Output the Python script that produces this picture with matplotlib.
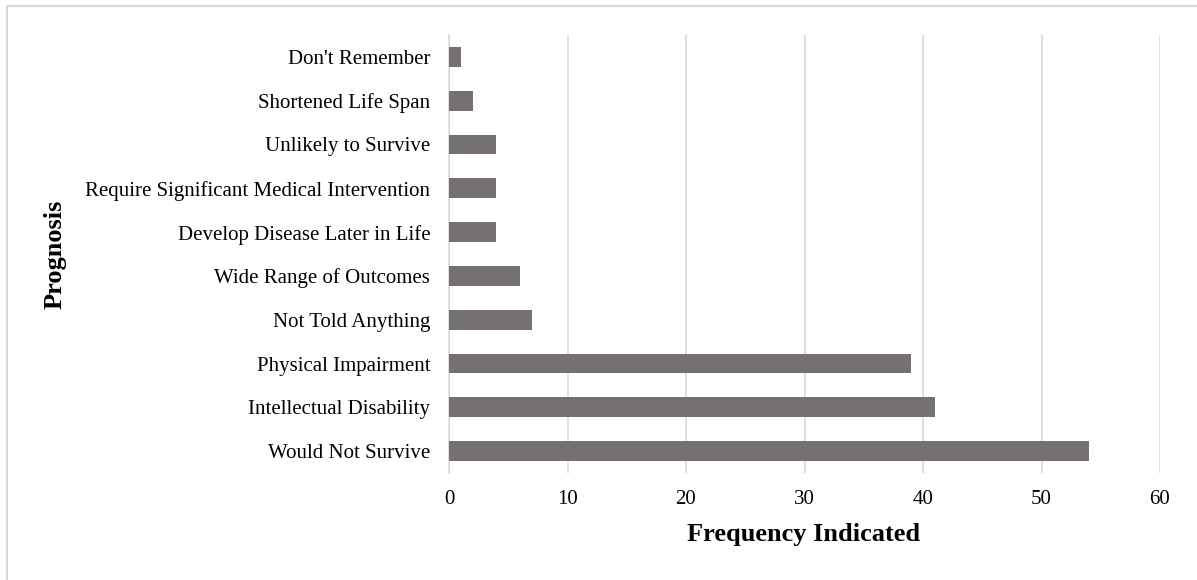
import matplotlib
matplotlib.use("Agg")
import matplotlib.pyplot as plt
from matplotlib.patches import Rectangle

categories = ["Would Not Survive", "Intellectual Disability", "Physical Impairment",
              "Not Told Anything", "Wide Range of Outcomes", "Develop Disease Later in Life",
              "Require Significant Medical Intervention", "Unlikely to Survive",
              "Shortened Life Span", "Don't Remember"]
values = [54, 41, 39, 7, 6, 4, 4, 4, 2, 1]
xticks = [0, 10, 20, 30, 40, 50, 60]

plt.rcParams['font.family'] = ['Liberation Serif', 'DejaVu Serif']

W, H = 1197, 580
fig = plt.figure(figsize=(W/100, H/100), dpi=100)
ax = fig.add_axes([449/W, 1-473/H, (1160-449)/W, (473-35)/H])

ax.barh(range(len(categories)), values, height=0.45, color="#767171", zorder=3)
ax.set_ylim(-0.5, len(categories)-0.5)
ax.set_xlim(0, 60)
ax.set_xticks(xticks)
ax.set_yticks(range(len(categories)))
ax.set_yticklabels(categories, fontsize=15)
ax.tick_params(axis='x', labelsize=15, length=0, pad=12)
ax.tick_params(axis='y', length=0, pad=13.5)
ax.grid(axis='x', color="#d9d9d9", linewidth=1.2, zorder=0)
for s in ["top", "right", "bottom"]:
    ax.spines[s].set_visible(False)
ax.spines["left"].set_color("#d9d9d9")
ax.spines["left"].set_linewidth(1.2)

fig.text(804/W, 1-535/H, "Frequency Indicated", fontsize=19, fontweight="bold",
         ha="center", va="center")
fig.text(55/W, 1-254/H, "Prognosis", fontsize=19, fontweight="bold", rotation=90,
         ha="center", va="center")

fig.patches.append(Rectangle((7/W, -10/H), (1210-7)/W, (574+10)/H, transform=fig.transFigure,
                             fill=False, edgecolor="#d9d9d9", linewidth=1.5))

fig.savefig("out.png", dpi=100)
